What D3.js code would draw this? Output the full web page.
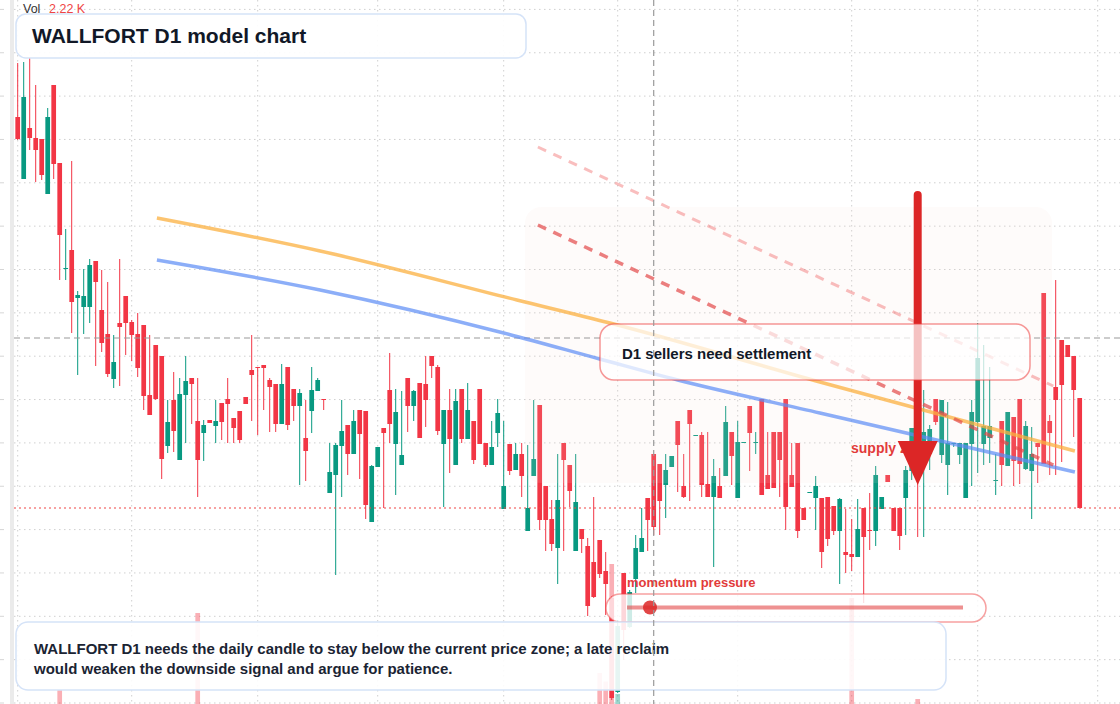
<!DOCTYPE html>
<html>
<head>
<meta charset="utf-8">
<script src="https://cdn.jsdelivr.net/npm/d3@7"></script>
<style>
html,body{margin:0;padding:0;background:#fff;}
svg{display:block;font-family:"Liberation Sans",Arial,Helvetica,sans-serif;}
</style>
</head>
<body>
<svg id="chart" width="1120" height="704"></svg>
<script>
// ---- data ----
const open = [58.6,52.4,57.5,56.5,56.4,50.9,61.8,54.0,43.4,45.3,
40.5,39.6,39.6,44.2,39.3,36.9,32.4,38.0,40.7,38.1,
36.9,37.8,30.8,35.8,34.7,25.7,30.3,24.3,30.8,32.5,
28.2,27.0,28.3,27.7,30.0,30.4,28.5,29.2,30.6,33.3,
33.6,33.8,32.3,31.9,27.9,33.6,31.4,29.7,26.5,29.2,
31.2,30.4,21.0,22.8,25.7,27.8,24.9,29.3,29.2,18.1,
23.6,27.5,31.3,25.9,23.8,32.5,29.7,32.0,31.9,34.7,
33.6,25.9,29.3,23.8,31.4,26.4,28.2,31.4,26.0,23.8,
27.0,19.4,25.9,23.3,24.9,17.2,22.7,29.8,21.7,18.4,
15.5,26.0,23.8,15.2,17.4,15.7,14.1,16.3,13.2,10.5,
1.1,13.0,7.6,12.4,15.1,20.5,24.9,23.9,21.8,23.6,
28.2,21.7,29.3,26.7,26.8,21.9,20.6,21.7,22.7,27.1,
20.5,26.0,29.7,26.0,30.4,22.8,27.1,27.1,30.4,22.8,
26.0,19.5,21.0,20.5,20.5,20.6,19.7,17.2,15.1,14.9,
14.6,19.5,17.3,17.2,19.4,22.8,19.5,19.5,20.5,23.2,
24.8,26.1,24.9,30.4,24.8,23.8,25.9,24.8,20.5,25.9,
28.1,25.9,26.5,22.2,28.2,23.7,28.6,30.4,23.4,23.2,
26.0,41.0,28.2,31.6,36.3,35.8,34.7,30.5];
const high = [64.0,64.1,64.5,61.8,56.4,59.5,61.8,54.0,47.4,54.2,
41.2,43.4,44.4,44.2,43.3,42.1,36.8,44.4,40.7,38.3,
39.0,37.8,36.8,35.8,34.7,30.3,33.1,32.5,34.7,32.5,
32.5,28.3,28.3,30.3,30.0,32.5,28.5,29.2,30.6,36.8,
33.6,33.8,32.5,31.9,33.9,33.6,31.4,31.4,30.3,33.6,
32.5,30.4,26.0,26.0,30.3,27.8,29.3,29.3,29.2,23.8,
25.6,27.5,35.0,31.4,31.2,32.5,31.3,32.0,34.7,34.7,
33.8,29.3,31.4,31.4,31.4,32.0,28.2,31.4,26.0,28.2,
30.4,28.2,25.9,26.0,26.0,25.8,30.3,29.8,21.7,20.3,
24.9,26.0,23.8,24.9,17.4,16.5,20.6,16.3,15.1,10.7,
8.3,13.0,11.3,16.8,19.5,20.5,24.9,23.9,24.9,24.7,
28.2,24.9,29.3,26.8,27.1,27.1,24.4,23.5,29.7,27.1,
28.2,26.1,29.7,27.1,30.4,27.1,27.1,27.1,30.4,26.0,
26.0,19.5,21.1,22.7,20.5,20.6,19.7,20.5,19.4,18.4,
20.4,19.5,21.0,23.7,20.6,22.8,19.5,19.5,23.7,27.5,
26.3,31.3,27.8,30.4,30.3,30.1,26.0,26.0,26.0,30.3,
38.0,35.8,33.6,24.9,28.2,29.1,28.6,30.4,28.2,27.6,
26.0,41.0,28.8,42.3,36.3,35.8,34.7,30.5];
const low = [56.3,52.4,55.3,52.1,52.3,50.9,52.4,42.3,42.3,37.0,
32.8,36.9,38.0,33.7,35.1,32.6,31.5,31.7,34.8,34.2,
32.6,29.3,28.8,30.3,22.4,25.0,25.1,24.3,26.0,27.9,
20.6,24.2,28.0,26.0,26.3,26.0,26.0,26.0,29.9,28.2,
26.8,29.3,27.1,27.1,27.9,27.3,28.2,21.8,22.2,27.0,
31.2,29.3,21.0,12.8,20.6,22.8,24.9,22.4,18.4,18.1,
23.6,19.5,26.0,20.8,23.8,27.1,28.2,26.5,27.6,32.5,
26.8,19.6,23.0,23.8,26.0,26.4,23.9,25.9,23.6,23.8,
25.6,19.4,22.8,23.3,20.6,17.2,22.7,17.3,15.2,15.2,
11.9,15.2,19.6,15.2,15.0,8.7,10.5,12.5,8.8,0.3,
1.0,4.3,7.5,11.0,15.1,15.2,16.8,16.8,18.5,23.6,
21.1,20.5,20.2,26.7,20.6,20.6,13.6,20.5,22.7,21.8,
20.5,26.0,23.2,24.9,20.8,21.4,21.5,20.6,17.3,21.6,
16.5,18.3,21.0,17.3,13.5,15.7,16.8,11.9,13.0,13.2,
14.6,10.0,15.3,15.7,19.4,22.1,17.2,15.3,16.8,22.3,
16.6,16.6,23.3,27.8,24.0,20.8,25.6,23.9,20.5,21.7,
23.0,23.8,24.0,20.8,21.7,23.7,21.7,21.9,23.3,18.4,
22.0,23.9,22.8,22.8,24.1,34.6,26.6,19.5];
const close = [56.4,60.6,56.5,55.3,52.8,58.6,53.9,46.8,43.5,40.1,
40.8,40.7,43.8,42.1,36.0,32.9,34.1,37.6,38.0,36.8,
33.5,30.7,28.8,30.4,24.4,28.1,27.2,30.9,32.2,31.9,
24.3,27.8,28.0,28.2,28.1,29.9,27.5,26.3,29.9,32.8,
33.5,33.5,31.6,27.9,31.9,27.8,29.7,31.0,25.2,31.3,
32.3,30.3,23.1,25.8,27.2,24.9,28.2,26.9,19.8,23.7,
25.6,27.0,27.9,29.1,24.8,29.7,31.2,26.5,30.3,33.7,
27.2,29.3,26.4,30.2,26.4,29.3,24.3,25.9,23.8,25.6,
29.0,21.7,23.2,24.9,22.7,19.5,24.4,18.3,18.3,15.9,
20.3,24.3,21.2,20.1,16.4,9.7,10.6,12.9,11.9,0.5,
7.7,7.3,11.1,15.5,16.5,18.3,17.6,20.2,23.3,24.7,
25.8,20.6,27.9,26.8,21.8,20.6,22.7,20.5,28.1,24.7,
26.1,26.1,27.0,26.1,20.8,21.4,21.5,24.3,19.6,21.6,
17.2,18.3,21.1,21.7,15.1,16.4,17.2,20.4,14.8,14.6,
17.4,16.6,17.2,22.8,20.6,22.1,17.2,16.7,23.3,27.5,
22.8,27.1,27.4,28.1,30.3,26.0,26.0,26.0,26.0,29.1,
34.5,27.7,27.7,22.3,23.8,29.1,24.2,23.9,27.7,24.9,
25.6,23.9,27.0,30.3,31.8,34.6,31.3,19.5];
const volume = [0.32,0.28,0.25,0.30,0.22,0.35,0.27,0.68,0.24,0.31,
0.26,0.21,0.29,0.33,0.27,0.36,0.23,0.30,0.25,0.28,
0.34,0.31,0.22,0.26,0.38,0.29,0.24,0.33,0.27,0.21,
2.22,0.30,0.18,0.25,0.28,0.23,0.26,0.32,0.19,0.27,
0.24,0.22,0.29,0.35,0.31,0.26,0.23,0.37,0.30,0.28,
0.20,0.18,0.33,0.39,0.30,0.27,0.25,0.29,0.36,0.32,
0.22,0.28,0.34,0.31,0.26,0.29,0.21,0.27,0.30,0.19,
0.33,0.35,0.28,0.30,0.27,0.26,0.24,0.31,0.22,0.25,
0.28,0.33,0.23,0.21,0.30,0.34,0.29,0.37,0.32,0.35,
0.38,0.30,0.27,0.33,0.26,0.39,0.36,1.02,0.85,3.20,
0.60,0.38,0.34,0.30,0.28,0.27,0.31,0.29,0.25,0.22,
0.30,0.26,0.33,0.18,0.29,0.24,0.35,0.21,0.31,0.27,
0.32,0.17,0.28,0.22,0.36,0.25,0.27,0.30,0.38,0.24,
0.33,0.20,0.16,0.28,0.34,0.29,0.25,0.36,0.27,2.52,
0.30,0.37,0.26,0.33,0.22,0.19,0.28,0.31,0.29,0.34,
0.50,0.36,0.27,0.25,0.32,0.30,0.18,0.24,0.33,0.29,
0.38,0.31,0.28,0.23,0.30,0.26,0.29,0.35,0.27,0.32,
0.25,0.39,0.28,0.34,0.30,0.22,0.29,0.37];
// month gridline positions (bar index)
const monthTicks = [0,19,40,60,81,100,120,139,160,180];
// trend curves: [bar index, price]
const orangeTrend = [[23.2,48.5],[50.4,45.2],[83.2,40.3],[98.7,38.0],[133.7,32.1],[176.2,25.2]];
const blueTrend = [[23.2,44.3],[50.4,41.3],[81,37.0],[97,34.4],[110,32.3],[133.7,29.0],[176.2,23.1]];
const channelUpper = [[86.7,55.6],[172.6,31.7]];
const channelLower = [[86.7,47.8],[172.6,23.8]];
const arrowBar = 150, arrowTop = 50.8, arrowBase = 26.2, arrowTip = 21.8;
const crossBar = 106, crossPrice = 36.5;
const lastPrice = close[close.length-1];
const volLabel = "2.22 K";
const titleText = "WALLFORT D1 model chart";
const calloutText = "D1 sellers need settlement";
const noteLines = ["WALLFORT D1 needs the daily candle to stay below the current price zone; a late reclaim",
                   "would weaken the downside signal and argue for patience."];

// ---- scales ----
const W = 1120, H = 704;
const svg = d3.select("#chart");
const x = d3.scaleLinear().domain([0,177]).range([17.7,1079.7]);
const y = d3.scaleLinear().domain([0,70.3]).range([703,0]);
const vY = d3.scaleLinear().domain([0,1]).range([724,674]);
const UP = "#089981", DN = "#f23645";
const bw = 4.7;

svg.append("rect").attr("width",W).attr("height",H).attr("fill","#fff");
svg.append("rect").attr("x",10).attr("y",0).attr("width",4).attr("height",H).attr("fill","#ebebeb");

// grid
const grid = svg.append("g");
d3.range(0,17).forEach(k=>{
  const v = k*4.335;
  grid.append("line").attr("x1",14).attr("x2",W).attr("y1",y(v)).attr("y2",y(v))
    .attr("stroke","#cfcfcf").attr("stroke-width",1).attr("stroke-dasharray","1.5,3.5");
  grid.append("line").attr("x1",0).attr("x2",4).attr("y1",y(v)).attr("y2",y(v))
    .attr("stroke","#d6d6d6").attr("stroke-width",1);
});
monthTicks.forEach(i=>{
  grid.append("line").attr("x1",x(i)).attr("x2",x(i)).attr("y1",0).attr("y2",H)
    .attr("stroke","#cfcfcf").attr("stroke-width",1).attr("stroke-dasharray","1.5,3.5");
});

const idx = d3.range(open.length);
// volume
svg.append("g").selectAll("rect").data(idx).join("rect")
  .attr("x",i=>x(i)-bw/2).attr("width",bw)
  .attr("y",i=>vY(volume[i])).attr("height",i=>vY(0)-vY(volume[i]))
  .attr("fill",i=>close[i]>=open[i]?UP:DN).attr("opacity",0.4);

// candles
const cg = svg.append("g");
cg.selectAll("line").data(idx).join("line")
  .attr("x1",i=>x(i)).attr("x2",i=>x(i))
  .attr("y1",i=>y(high[i])).attr("y2",i=>y(low[i]))
  .attr("stroke",i=>close[i]>=open[i]?UP:DN).attr("stroke-width",1);
cg.selectAll("rect").data(idx).join("rect")
  .attr("x",i=>x(i)-bw/2).attr("width",bw)
  .attr("y",i=>y(Math.max(open[i],close[i])))
  .attr("height",i=>Math.max(1,Math.abs(y(open[i])-y(close[i]))))
  .attr("fill",i=>close[i]>=open[i]?UP:DN);

// shaded zone
svg.append("rect").attr("x",525).attr("y",207).attr("width",527).attr("height",276).attr("rx",16)
  .attr("fill","rgb(250,225,210)").attr("opacity",0.12);

// last price line
svg.append("line").attr("x1",14).attr("x2",W).attr("y1",y(lastPrice)).attr("y2",y(lastPrice))
  .attr("stroke","#ef4444").attr("stroke-width",1.2).attr("stroke-dasharray","2,3");

// horizontal crosshair
svg.append("line").attr("x1",14).attr("x2",W).attr("y1",y(crossPrice)).attr("y2",y(crossPrice))
  .attr("stroke","#9a9a9a").attr("stroke-width",1.2).attr("stroke-dasharray","6,4");

// trends
const lineGen = d3.line().x(d=>x(d[0])).y(d=>y(d[1])).curve(d3.curveMonotoneX);
svg.append("path").attr("d",lineGen(orangeTrend)).attr("fill","none")
  .attr("stroke","#fbb040").attr("stroke-opacity",0.75).attr("stroke-width",3.5);
svg.append("path").attr("d",lineGen(blueTrend)).attr("fill","none")
  .attr("stroke","#5b8cf5").attr("stroke-opacity",0.7).attr("stroke-width",3.5);
svg.append("path").attr("d",d3.line().x(d=>x(d[0])).y(d=>y(d[1]))(channelUpper)).attr("fill","none")
  .attr("stroke","#ef4444").attr("stroke-opacity",0.35).attr("stroke-width",3).attr("stroke-dasharray","9,8");
svg.append("path").attr("d",d3.line().x(d=>x(d[0])).y(d=>y(d[1]))(channelLower)).attr("fill","none")
  .attr("stroke","#e34848").attr("stroke-opacity",0.7).attr("stroke-width",3.5).attr("stroke-dasharray","9,8");

// supply zone text
svg.append("text").attr("x",851).attr("y",453).text("supply zone")
  .attr("font-size",14).attr("font-weight","bold").attr("fill","#e23b3b");

// arrow
const ax = x(arrowBar);
svg.append("line").attr("x1",ax).attr("x2",ax).attr("y1",y(arrowTop)).attr("y2",y(arrowBase)+2)
  .attr("stroke","#dc2626").attr("stroke-width",8).attr("stroke-linecap","round");
svg.append("path").attr("d",`M${ax-20},${y(arrowBase)} L${ax+20},${y(arrowBase)} L${ax},${y(arrowTip)} Z`)
  .attr("fill","#dc2626");

// callout
svg.append("rect").attr("x",600).attr("y",324).attr("width",430).attr("height",56).attr("rx",14)
  .attr("fill","#fff").attr("fill-opacity",0.72).attr("stroke","#ef4444").attr("stroke-opacity",0.55).attr("stroke-width",1.5);
svg.append("text").attr("x",622).attr("y",358.5).text(calloutText)
  .attr("font-size",15).attr("font-weight","bold").attr("fill","#111827");

// momentum
svg.append("text").attr("x",627).attr("y",587).text("momentum pressure")
  .attr("font-size",13).attr("font-weight","bold").attr("fill","#e23b3b");
svg.append("rect").attr("x",606).attr("y",594).attr("width",380).attr("height",28).attr("rx",14)
  .attr("fill","#fff").attr("fill-opacity",0.8).attr("stroke","#ef4444").attr("stroke-opacity",0.5).attr("stroke-width",1.5);
svg.append("line").attr("x1",627).attr("x2",963).attr("y1",607.5).attr("y2",607.5)
  .attr("stroke","#e34848").attr("stroke-opacity",0.6).attr("stroke-width",4);
svg.append("circle").attr("cx",650).attr("cy",607.5).attr("r",7).attr("fill","#dc2626").attr("fill-opacity",0.85);

// title box
svg.append("rect").attr("x",16).attr("y",14).attr("width",510).attr("height",44).attr("rx",10)
  .attr("fill","#fff").attr("fill-opacity",0.92).attr("stroke","#d5e3f8").attr("stroke-width",1.5);
svg.append("text").attr("x",32).attr("y",43).text(titleText)
  .attr("font-size",21).attr("font-weight","bold").attr("fill","#111827");

// note box
svg.append("rect").attr("x",16).attr("y",622).attr("width",930).attr("height",68).attr("rx",12)
  .attr("fill","#fff").attr("fill-opacity",0.9).attr("stroke","#d5e3f8").attr("stroke-width",1.5);
noteLines.forEach((t,k)=>{
  svg.append("text").attr("x",34).attr("y",653.5+20*k).text(t)
    .attr("font-size",15).attr("font-weight","bold").attr("fill","#1b2433");
});

// vertical crosshair
svg.append("line").attr("x1",x(crossBar)).attr("x2",x(crossBar)).attr("y1",0).attr("y2",H)
  .attr("stroke","#9a9a9a").attr("stroke-width",1.2).attr("stroke-dasharray","6,4");

// vol label
svg.append("text").attr("x",23).attr("y",13).text("Vol").attr("font-size",12.5).attr("fill","#333");
svg.append("text").attr("x",49).attr("y",13).text(volLabel).attr("font-size",12.5).attr("fill","#ef4444");
</script>
</body>
</html>
